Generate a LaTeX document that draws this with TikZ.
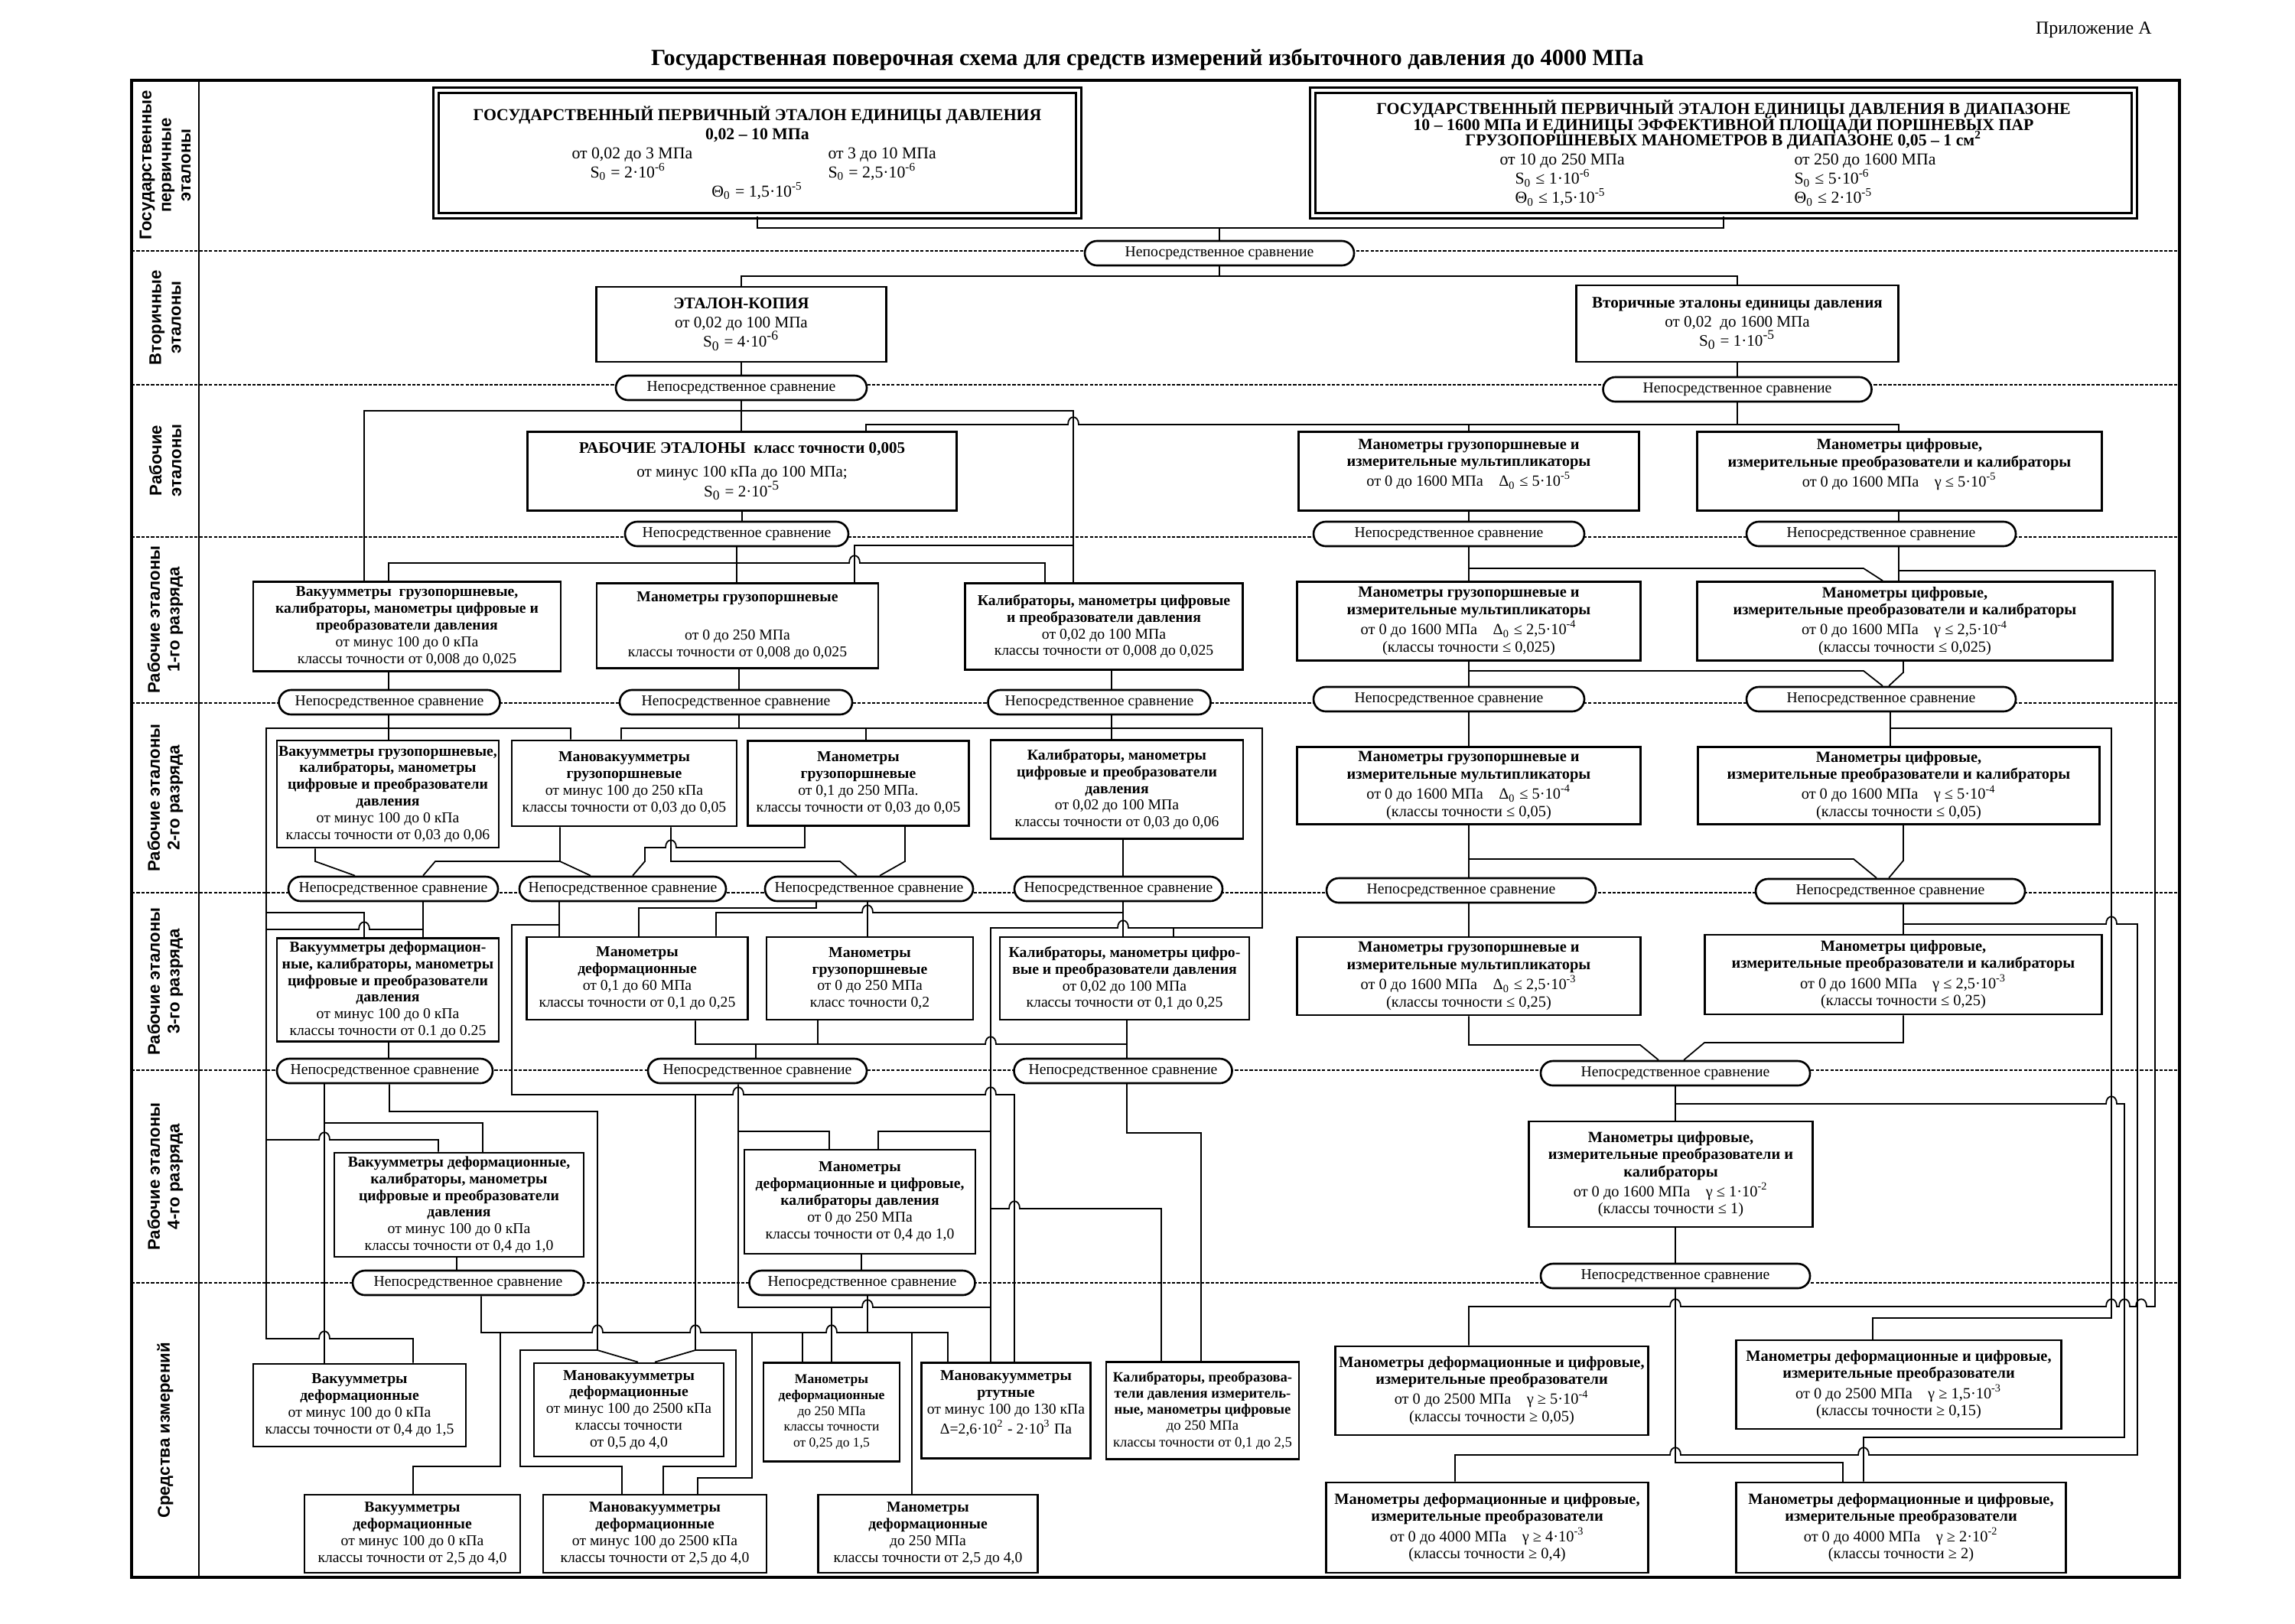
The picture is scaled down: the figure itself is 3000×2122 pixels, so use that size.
\documentclass[tikz,border=0pt]{standalone}
\usepackage{fontspec}
\setmainfont{Liberation Serif}
\newfontfamily\lblfont{Liberation Sans}
\newcommand{\tenp}[1]{·10\textsuperscript{#1}}
\newcommand{\Sn}{S\textsubscript{0}}
\newcommand{\colA}[2]{\makebox[#1][l]{#2}}
% hop of a horizontal line over a vertical one (drawn left to right / right to left)
\newcommand{\hopr}[2]{-- (#1-7,#2) .. controls (#1-7,#2-13) and (#1+7,#2-13) .. (#1+7,#2)}
\newcommand{\hopl}[2]{-- (#1+7,#2) .. controls (#1+7,#2-13) and (#1-7,#2-13) .. (#1-7,#2)}
\begin{document}
\begin{tikzpicture}[x=0.1mm, y=-0.1mm,
  every node/.style={inner sep=0.5pt},
  box/.style={draw, line width=0.8pt, fill=white, align=center, font=\fontsize{5.6}{6.2}\selectfont},
  rbox/.style={box, font=\fontsize{5.8}{6.4}\selectfont},
  topbox/.style={draw, double, double distance=1.4pt, line width=0.8pt, align=center, font=\fontsize{6.2}{7.1}\selectfont},
  cmp/.style={draw, fill=white, line width=0.75pt, rounded corners=1.6mm, minimum height=3.2mm, font=\fontsize{5.6}{6.4}\selectfont},
  lbl/.style={rotate=90, align=center, font=\lblfont\bfseries\fontsize{6.3}{7.3}\selectfont},
  sep/.style={dash pattern=on 1.2pt off 0.6pt, line width=0.5pt},
  link/.style={line width=0.5pt}]
\useasboundingbox (0,0) rectangle (3000,2122);

% title
\node[font=\bfseries\fontsize{8.6}{10}\selectfont] (title) at (1500,78) {Государственная поверочная схема для средств измерений избыточного давления до 4000 МПа};
\node[font=\fontsize{6.8}{8}\selectfont, anchor=east] (app) at (2815,39) {Приложение А};

% frame and rows
\draw[line width=0.9pt] (172,105) rectangle (2849,2062);
\draw[line width=0.6pt] (260,105) -- (260,2062);
\foreach \y in {328,503,702,919,1167,1399,1677}
  \draw[sep] (172,\y) -- (2849,\y);

% row labels
\node[lbl] (l1) at (216,216) {Государственные\\первичные\\эталоны};
\node[lbl] (l2) at (216,415) {Вторичные\\эталоны};
\node[lbl] (l3) at (216,602) {Рабочие\\эталоны};
\node[lbl] (l4) at (216,810) {Рабочие эталоны\\1-го разряда};
\node[lbl] (l5) at (216,1043) {Рабочие эталоны\\2-го разряда};
\node[lbl] (l6) at (216,1283) {Рабочие эталоны\\3-го разряда};
\node[lbl] (l7) at (216,1538) {Рабочие эталоны\\4-го разряда};
\node[lbl] (l8) at (216,1870) {Средства измерений};

% state primary standards
\node[topbox, minimum width=84mm, minimum height=16.4mm] (sp1) at (990,200) {{\bfseries ГОСУДАРСТВЕННЫЙ ПЕРВИЧНЫЙ ЭТАЛОН ЕДИНИЦЫ ДАВЛЕНИЯ}\\{\bfseries 0,02 – 10 МПа}\\\colA{33.5mm}{от 0,02 до 3 МПа}\colA{15mm}{от 3 до 10 МПа}\\\colA{33.5mm}{\hspace{2.4mm}\Sn{} = 2\tenp{-6}}\colA{15mm}{\Sn{} = 2,5\tenp{-6}}\\Θ\textsubscript{0} = 1,5\tenp{-5}};
\node[topbox, minimum width=107.4mm, minimum height=16.4mm] (sp2) at (2253,200) {{\bfseries ГОСУДАРСТВЕННЫЙ ПЕРВИЧНЫЙ ЭТАЛОН ЕДИНИЦЫ ДАВЛЕНИЯ В ДИАПАЗОНЕ}\\[-1.2pt]{\bfseries 10 – 1600 МПа И ЕДИНИЦЫ ЭФФЕКТИВНОЙ ПЛОЩАДИ ПОРШНЕВЫХ ПАР}\\[-1.2pt]{\bfseries ГРУЗОПОРШНЕВЫХ МАНОМЕТРОВ В ДИАПАЗОНЕ 0,05 – 1 см\textsuperscript{2}}\\\colA{38.5mm}{от 10 до 250 МПа}\colA{20mm}{от 250 до 1600 МПа}\\\colA{38.5mm}{\hspace{2mm}\Sn{} ≤ 1\tenp{-6}}\colA{20mm}{\Sn{} ≤ 5\tenp{-6}}\\\colA{38.5mm}{\hspace{2mm}Θ\textsubscript{0} ≤ 1,5\tenp{-5}}\colA{20mm}{Θ\textsubscript{0} ≤ 2\tenp{-5}}};
\node[cmp, minimum width=35.2mm] (c1) at (1594,331) {Непосредственное сравнение};

% secondary standards
\node[box, font=\fontsize{6}{7.1}\selectfont, minimum width=37.9mm, minimum height=9.8mm] (kopia) at (969,424) {{\bfseries ЭТАЛОН-КОПИЯ}\\от 0,02 до 100 МПа\\\Sn{} = 4\tenp{-6}};
\node[box, font=\fontsize{6}{7.1}\selectfont, minimum width=42.1mm, minimum height=10mm] (vtor) at (2271,423) {{\bfseries Вторичные эталоны единицы давления}\\от 0,02~ до 1600 МПа\\\Sn{} = 1\tenp{-5}};
\node[cmp, minimum width=32.8mm] (c2a) at (969,507) {Непосредственное сравнение};
\node[cmp, minimum width=35.1mm] (c2b) at (2271,509) {Непосредственное сравнение};

% working standards
\node[box, font=\fontsize{6}{7.4}\selectfont, minimum width=56.1mm, minimum height=10.3mm] (rab) at (970,616) {{\bfseries РАБОЧИЕ ЭТАЛОНЫ~~класс точности 0,005}\\[1.5pt]от минус 100 кПа до 100 МПа;\\\Sn{} = 2\tenp{-5}};
\node[rbox, minimum width=44.5mm, minimum height=10.3mm] (mgp0) at (1920,616) {{\bfseries Манометры грузопоршневые и}\\{\bfseries измерительные мультипликаторы}\\от 0 до 1600 МПа\quad Δ\textsubscript{0} ≤ 5\tenp{-5}\\~};
\node[rbox, minimum width=52.9mm, minimum height=10.3mm] (mc0) at (2483,616) {{\bfseries Манометры цифровые,}\\{\bfseries измерительные преобразователи и калибраторы}\\от 0 до 1600 МПа\quad γ ≤ 5\tenp{-5}\\~};
\node[cmp, minimum width=29.2mm] (c3a) at (963,698) {Непосредственное сравнение};
\node[cmp, minimum width=35.4mm] (c3b) at (1894,698) {Непосредственное сравнение};
\node[cmp, minimum width=35.2mm] (c3c) at (2459,698) {Непосредственное сравнение};

% 1st rank
\node[box, minimum width=40.2mm, minimum height=11.7mm] (vgp1) at (532,819) {{\bfseries Вакуумметры~ грузопоршневые,}\\{\bfseries калибраторы, манометры цифровые и}\\{\bfseries преобразователи давления}\\от минус 100 до 0 кПа\\классы точности от 0,008 до 0,025};
\node[box, minimum width=36.8mm, minimum height=11.1mm] (mgp1) at (964,818) {{\bfseries Манометры грузопоршневые}\\[8pt]от 0 до 250 МПа\\классы точности от 0,008 до 0,025};
\node[box, minimum width=36.3mm, minimum height=11.3mm] (kal1) at (1443,819) {{\bfseries Калибраторы, манометры цифровые}\\{\bfseries и преобразователи давления}\\от 0,02 до 100 МПа\\классы точности от 0,008 до 0,025};
\node[rbox, minimum width=44.9mm, minimum height=10.3mm] (mgp1r) at (1920,812) {{\bfseries Манометры грузопоршневые и}\\{\bfseries измерительные мультипликаторы}\\от 0 до 1600 МПа\quad Δ\textsubscript{0} ≤ 2,5\tenp{-4}\\(классы точности ≤ 0,025)};
\node[rbox, minimum width=54.3mm, minimum height=10.3mm] (mc1r) at (2490,812) {{\bfseries Манометры цифровые,}\\{\bfseries измерительные преобразователи и калибраторы}\\от 0 до 1600 МПа\quad γ ≤ 2,5\tenp{-4}\\(классы точности ≤ 0,025)};
\node[cmp, minimum width=28.9mm] (e1) at (509,918) {Непосредственное сравнение};
\node[cmp, minimum width=30.4mm] (e2) at (962,918) {Непосредственное сравнение};
\node[cmp, minimum width=29.1mm] (e3) at (1437,918) {Непосредственное сравнение};
\node[cmp, minimum width=35.4mm] (e4) at (1894,914) {Непосредственное сравнение};
\node[cmp, minimum width=35.2mm] (e5) at (2459,914) {Непосредственное сравнение};

% 2nd rank
\node[box, minimum width=29mm, minimum height=14mm] (vgp2) at (507,1038) {{\bfseries Вакуумметры грузопоршневые,}\\{\bfseries калибраторы, манометры}\\{\bfseries цифровые и преобразователи}\\{\bfseries давления}\\от минус 100 до 0 кПа\\классы точности от 0,03 до 0,06};
\node[box, minimum width=29.4mm, minimum height=11.2mm] (mvgp2) at (816,1024) {{\bfseries Мановакуумметры}\\{\bfseries грузопоршневые}\\от минус 100 до 250 кПа\\классы точности от 0,03 до 0,05};
\node[box, minimum width=28.9mm, minimum height=11.1mm] (mgp2) at (1122,1024) {{\bfseries Манометры}\\{\bfseries грузопоршневые}\\от 0,1 до 250 МПа.\\классы точности от 0,03 до 0,05};
\node[box, minimum width=33mm, minimum height=12.9mm] (kal2) at (1460,1032) {{\bfseries Калибраторы, манометры}\\{\bfseries цифровые и преобразователи}\\{\bfseries давления}\\от 0,02 до 100 МПа\\классы точности от 0,03 до 0,06};
\node[rbox, minimum width=44.9mm, minimum height=10.1mm] (mgp2r) at (1920,1027) {{\bfseries Манометры грузопоршневые и}\\{\bfseries измерительные мультипликаторы}\\от 0 до 1600 МПа\quad Δ\textsubscript{0} ≤ 5\tenp{-4}\\(классы точности ≤ 0,05)};
\node[rbox, minimum width=52.5mm, minimum height=10.1mm] (mc2r) at (2482,1027) {{\bfseries Манометры цифровые,}\\{\bfseries измерительные преобразователи и калибраторы}\\от 0 до 1600 МПа\quad γ ≤ 5\tenp{-4}\\(классы точности ≤ 0,05)};
\node[cmp, minimum width=27.4mm] (f1) at (514,1162) {Непосредственное сравнение};
\node[cmp, minimum width=27mm] (f2) at (814,1162) {Непосредственное сравнение};
\node[cmp, minimum width=27.2mm] (f3) at (1136,1162) {Непосредственное сравнение};
\node[cmp, minimum width=27.2mm] (f4) at (1462,1162) {Непосредственное сравнение};
\node[cmp, minimum width=35.2mm] (g1) at (1910,1164) {Непосредственное сравнение};
\node[cmp, minimum width=35.2mm] (g2) at (2471,1165) {Непосредственное сравнение};

% 3rd rank
\node[box, minimum width=29mm, minimum height=13.5mm] (vd3) at (507,1294) {{\bfseries Вакуумметры деформацион-}\\{\bfseries ные, калибраторы, манометры}\\{\bfseries цифровые и преобразователи}\\{\bfseries давления}\\от минус 100 до 0 кПа\\классы точности от 0.1 до 0.25};
\node[box, minimum width=28.9mm, minimum height=10.8mm] (md3) at (833,1279) {{\bfseries Манометры}\\{\bfseries деформационные}\\от 0,1 до 60 МПа\\классы точности от 0,1 до 0,25};
\node[box, minimum width=27mm, minimum height=10.8mm] (mgp3) at (1137,1279) {{\bfseries Манометры}\\{\bfseries грузопоршневые}\\от 0 до 250 МПа\\класс точности 0,2};
\node[box, minimum width=32.6mm, minimum height=10.8mm] (kal3) at (1470,1279) {{\bfseries Калибраторы, манометры цифро-}\\{\bfseries вые и преобразователи давления}\\от 0,02 до 100 МПа\\классы точности от 0,1 до 0,25};
\node[rbox, minimum width=44.9mm, minimum height=10.2mm] (mgp3r) at (1920,1276) {{\bfseries Манометры грузопоршневые и}\\{\bfseries измерительные мультипликаторы}\\от 0 до 1600 МПа\quad Δ\textsubscript{0} ≤ 2,5\tenp{-3}\\(классы точности ≤ 0,25)};
\node[rbox, minimum width=51.9mm, minimum height=10.4mm] (mc3r) at (2488,1274) {{\bfseries Манометры цифровые,}\\{\bfseries измерительные преобразователи и калибраторы}\\от 0 до 1600 МПа\quad γ ≤ 2,5\tenp{-3}\\(классы точности ≤ 0,25)};
\node[cmp, minimum width=28.2mm] (j1) at (503,1400) {Непосредственное сравнение};
\node[cmp, minimum width=28.6mm] (j2) at (990,1400) {Непосредственное сравнение};
\node[cmp, minimum width=28.5mm] (j3) at (1468,1400) {Непосредственное сравнение};
\node[cmp, minimum width=35.2mm] (h1) at (2190,1403) {Непосредственное сравнение};

% 4th rank
\node[box, minimum width=32.6mm, minimum height=13.6mm] (vd4) at (600,1575) {{\bfseries Вакуумметры деформационные,}\\{\bfseries калибраторы, манометры}\\{\bfseries цифровые и преобразователи}\\{\bfseries давления}\\от минус 100 до 0 кПа\\классы точности от 0,4 до 1,0};
\node[box, minimum width=30.2mm, minimum height=13.6mm] (mdc4) at (1124,1571) {{\bfseries Манометры}\\{\bfseries деформационные и цифровые,}\\{\bfseries калибраторы давления}\\от 0 до 250 МПа\\классы точности от 0,4 до 1,0};
\node[rbox, minimum width=37.1mm, minimum height=13.8mm] (mc4) at (2184,1535) {{\bfseries Манометры цифровые,}\\{\bfseries измерительные преобразователи и}\\{\bfseries калибраторы}\\от 0 до 1600 МПа\quad γ ≤ 1\tenp{-2}\\(классы точности ≤ 1)};
\node[cmp, minimum width=30.2mm] (k1) at (612,1677) {Непосредственное сравнение};
\node[cmp, minimum width=29.5mm] (k2) at (1127,1677) {Непосредственное сравнение};
\node[cmp, minimum width=35.2mm] (i1) at (2190,1668) {Непосредственное сравнение};

% measuring instruments
\node[box, minimum width=27.8mm, minimum height=10.8mm] (v1) at (470,1837) {{\bfseries Вакуумметры}\\{\bfseries деформационные}\\от минус 100 до 0 кПа\\классы точности от 0,4 до 1,5};
\node[box, minimum width=24.8mm, minimum height=12.2mm] (mv1) at (822,1843) {{\bfseries Мановакуумметры}\\{\bfseries деформационные}\\от минус 100 до 2500 кПа\\классы точности\\от 0,5 до 4,0};
\node[box, font=\fontsize{5}{5.9}\selectfont, minimum width=17.8mm, minimum height=12.9mm] (m1) at (1087,1846) {{\bfseries Манометры}\\{\bfseries деформационные}\\до 250 МПа\\классы точности\\от 0,25 до 1,5};
\node[box, minimum width=22.1mm, minimum height=12.5mm] (mvr) at (1315,1844) {{\bfseries Мановакуумметры}\\{\bfseries ртутные}\\от минус 100 до 130 кПа\\Δ=2,6\tenp{2} - 2\tenp{3} Па\\~};
\node[box, font=\fontsize{5.3}{6}\selectfont, minimum width=25.2mm, minimum height=12.7mm] (kpi) at (1572,1844) {{\bfseries Калибраторы, преобразова-}\\{\bfseries тели давления измеритель-}\\{\bfseries ные, манометры цифровые}\\до 250 МПа\\классы точности от 0,1 до 2,5};
\node[box, minimum width=28.2mm, minimum height=10.2mm] (v2) at (539,2005) {{\bfseries Вакуумметры}\\{\bfseries деформационные}\\от минус 100 до 0 кПа\\классы точности от 2,5 до 4,0};
\node[box, minimum width=29.2mm, minimum height=10.2mm] (mv2) at (856,2005) {{\bfseries Мановакуумметры}\\{\bfseries деформационные}\\от минус 100 до 2500 кПа\\классы точности от 2,5 до 4,0};
\node[box, minimum width=28.7mm, minimum height=10.2mm] (m2) at (1213,2005) {{\bfseries Манометры}\\{\bfseries деформационные}\\до 250 МПа\\классы точности от 2,5 до 4,0};
\node[rbox, minimum width=40.9mm, minimum height=11.6mm] (q1) at (1950,1818) {{\bfseries Манометры деформационные и цифровые,}\\{\bfseries измерительные преобразователи}\\от 0 до 2500 МПа\quad γ ≥ 5\tenp{-4}\\(классы точности ≥ 0,05)};
\node[rbox, minimum width=42.5mm, minimum height=11.6mm] (q2) at (2482,1810) {{\bfseries Манометры деформационные и цифровые,}\\{\bfseries измерительные преобразователи}\\от 0 до 2500 МПа\quad γ ≥ 1,5\tenp{-3}\\(классы точности ≥ 0,15)};
\node[rbox, minimum width=42.1mm, minimum height=11.8mm] (q3) at (1944,1997) {{\bfseries Манометры деформационные и цифровые,}\\{\bfseries измерительные преобразователи}\\от 0 до 4000 МПа\quad γ ≥ 4\tenp{-3}\\(классы точности ≥ 0,4)};
\node[rbox, minimum width=43.1mm, minimum height=11.8mm] (q4) at (2485,1997) {{\bfseries Манометры деформационные и цифровые,}\\{\bfseries измерительные преобразователи}\\от 0 до 4000 МПа\quad γ ≥ 2\tenp{-2}\\(классы точности ≥ 2)};

% primary -> secondary
\coordinate (t1) at (1594,298);
\coordinate (t2) at (1594,361);
\draw[link] (sp1.south) |- (t1) -| (sp2.south);
\draw[link] (t1) -- (c1.north);
\draw[link] (c1.south) -- (t2);
\draw[link] (kopia.north) |- (t2) -| (vtor.north);
\draw[link] (kopia.south) -- (kopia.south |- c2a.north);
\draw[link] (vtor.south) -- (vtor.south |- c2b.north);

% secondary -> working
\draw[link] (c2a.south) -- (c2a.south |- rab.north);
\draw[link] (476,0 |- vgp1.north) |- (1403,537) -- (1403,0 |- kal1.north);
\draw[link] (1403,713) -| (1117,0 |- mgp1.north);
\draw[link] (c2b.south) -- (2271,555);
\draw[link] (1132,0 |- rab.north) |- (1390,555) \hopr{1403}{555} -- (2482,555) -- (2482,0 |- mc0.north);
\draw[link] (mgp0.north) -- (mgp0.north |- 0,555);
\draw[link] (rab.south) -- (rab.south |- c3a.north);
\draw[link] (mgp0.south) -- (mgp0.south |- c3b.north);
\draw[link] (2482,0 |- mc0.south) -- (2482,0 |- c3c.north);

% working -> 1st rank
\draw[link] (c3a.south) -- (c3a.south |- mgp1.north);
\draw[link] (508,0 |- vgp1.north) |- (1100,736) \hopr{1117}{736} -| (1366,0 |- kal1.north);
\draw[link] (mgp1r.north |- c3b.south) -- (mgp1r.north);
\draw[link] (1920,743) -- (2436,743) -- (2461,0 |- mc1r.north);
\draw[link] (2482,0 |- c3c.south) -- (2482,0 |- mc1r.north);
\draw[link] (2482,746) -- (2817,746) -- (2817,1708) \hopl{2799}{1708} \hopl{2777}{1708} \hopl{2760}{1708} \hopl{2190}{1708} -| (1920,0 |- q1.north);

% 1st rank -> comparisons
\draw[link] (508,0 |- vgp1.south) -- (508,0 |- e1.north);
\draw[link] (966,0 |- mgp1.south) -- (966,0 |- e2.north);
\draw[link] (1453,0 |- kal1.south) -- (1453,0 |- e3.north);
\draw[link] (mgp1r.south) -- (mgp1r.south |- e4.north);
\draw[link] (1920,877) -- (2436,877) -- (2461,0 |- e5.north);
\draw[link] (2488,0 |- mc1r.south) -- (2488,879) -- (2469,0 |- e5.north);

% 1st rank comparisons -> 2nd rank
\draw[link] (508,0 |- e1.south) -- (508,0 |- vgp2.north);
\draw[link] (746,0 |- mvgp2.north) |- (348,952) -- (348,1750) \hopr{424}{1750} -| (540,0 |- v1.north);
\draw[link] (966,0 |- e2.south) -- (966,952);
\draw[link] (812,0 |- mvgp2.north) |- (1650,952) -- (1650,1213) \hopl{1468}{1213} -| (1295,0 |- mvr.north);
\draw[link] (1534,1213) -- (1534,0 |- kal3.north);
\draw[link] (1132,952) -- (1132,0 |- mgp2.north);
\draw[link] (1453,0 |- e3.south) -- (1453,0 |- kal2.north);
\draw[link] (mgp2r.north |- e4.south) -- (mgp2r.north);
\draw[link] (2471,0 |- e5.south) -- (2471,0 |- mc2r.north);
\draw[link] (2471,952) -- (2760,952) -- (2760,1723) -| (2448,0 |- q2.north);

% 2nd rank -> comparisons (left)
\draw[link] (412,0 |- vgp2.south) -- (412,1126) -- (464,0 |- f1.north);
\draw[link] (732,0 |- mvgp2.south) -- (732,1126) -- (569,1126) -- (553,0 |- f1.north);
\draw[link] (732,1126) -- (772,0 |- f2.north);
\draw[link] (1052,0 |- mgp2.south) -- (1052,1108) \hopl{877}{1108} -- (843,1108) -- (843,1126) -- (827,0 |- f2.north);
\draw[link] (877,0 |- mvgp2.south) -- (877,1126) -- (1098,1126) -- (1120,0 |- f3.north);
\draw[link] (1183,0 |- mgp2.south) -- (1183,1126) -- (1150,0 |- f3.north);
\draw[link] (1468,0 |- kal2.south) -- (1468,0 |- f4.north);

% 2nd rank -> comparisons (right)
\draw[link] (mgp2r.south) -- (mgp2r.south |- g1.north);
\draw[link] (1920,1123) -- (2423,1123) -- (2453,0 |- g2.north);
\draw[link] (2488,0 |- mc2r.south) -- (2488,1125) -- (2469,0 |- g2.north);
\draw[link] (mgp3r.north |- g1.south) -- (mgp3r.north);
\draw[link] (2488,0 |- g2.south) -- (2488,0 |- mc3r.north);
\draw[link] (2488,1208) \hopr{2760}{1208} -- (2794,1208) -- (2794,1902) \hopl{2436}{1902} \hopl{2190}{1902} -| (1902,0 |- q3.north);

% comparisons -> 3rd rank (left)
\draw[link] (553,0 |- f1.south) -- (553,0 |- vd3.north);
\draw[link] (553,1215) \hopl{476}{1215} -- (348,1215);
\draw[link] (348,1193) -| (476,0 |- vd3.north);
\draw[link] (731,0 |- f2.south) -- (731,0 |- md3.north);
\draw[link] (731,1209) -| (669,1431) \hopr{965}{1431} \hopr{1295}{1431} -| (1326,0 |- mvr.north);
\draw[link] (909,1431) -- (909,1765) -- (856,0 |- mv1.north);
\draw[link] (909,1765) -| (962,1917) -| (867,0 |- mv2.north);
\draw[link] (1067,0 |- f3.south) |- (835,1187) -- (835,0 |- md3.north);
\draw[link] (1134,0 |- f3.south) -- (1134,0 |- mgp3.north);
\draw[link] (1468,0 |- f4.south) -- (1468,0 |- kal3.north);
\draw[link] (1468,1193) \hopl{1134}{1193} -| (936,0 |- md3.north);

% 3rd rank -> 4th rank (right)
\draw[link] (mgp3r.south) -- (1920,1366) -- (2144,1366) -- (2168,0 |- h1.north);
\draw[link] (2488,0 |- mc3r.south) -- (2488,1363) -- (2228,1363) -- (2201,0 |- h1.north);
\draw[link] (h1.south) -- (h1.south |- mc4.north);
\draw[link] (2190,1443) \hopr{2760}{1443} -- (2777,1443) -- (2777,1879) -| (2436,0 |- q4.north);
\draw[link] (2190,0 |- mc4.south) -- (2190,0 |- i1.north);
\draw[link] (i1.south) -- (2190,1912) -| (2409,0 |- q4.north);

% 3rd rank -> comparisons (left)
\draw[link] (508,0 |- vd3.south) -- (508,0 |- j1.north);
\draw[link] (909,0 |- md3.south) |- (1285,1365) \hopr{1295}{1365} -- (1473,1365);
\draw[link] (1069,0 |- mgp3.south) -- (1069,1365);
\draw[link] (988,1365) -- (988,0 |- j2.north);
\draw[link] (1473,0 |- kal3.south) -- (1473,0 |- j3.north);

% comparisons -> 4th rank and instruments (left)
\draw[link] (424,0 |- j1.south) -- (424,0 |- v1.north);
\draw[link] (424,1468) -| (631,0 |- vd4.north);
\draw[link] (348,1490) \hopr{424}{1490} -| (573,0 |- vd4.north);
\draw[link] (509,0 |- j1.south) |- (781,1453) -- (781,1765) -- (834,0 |- mv1.north);
\draw[link] (781,1765) -| (680,1917) -| (813,0 |- mv2.north);
\draw[link] (965,0 |- j2.south) -- (965,1709) \hopr{1134}{1709} -- (1295,1709);
\draw[link] (965,1479) -| (1084,0 |- mdc4.north);
\draw[link] (1295,1479) -| (1148,0 |- mdc4.north);
\draw[link] (1087,1709) -- (1087,0 |- m1.north);
\draw[link] (1295,1580) \hopr{1326}{1580} -| (1518,0 |- kpi.north);
\draw[link] (1473,0 |- j3.south) |- (1570,1481) -- (1570,0 |- kpi.north);

% 4th rank -> comparisons -> instruments
\draw[link] (597,0 |- vd4.south) -- (597,0 |- k1.north);
\draw[link] (1126,0 |- mdc4.south) -- (1126,0 |- k2.north);
\draw[link] (629,0 |- k1.south) -- (629,1742) \hopr{781}{1742} \hopr{909}{1742} \hopr{1087}{1742} -- (1239,1742) -- (1239,0 |- mvr.north);
\draw[link] (654,1742) |- (540,1917) -- (540,0 |- v2.north);
\draw[link] (983,1742) |- (912,1932) -- (912,0 |- mv2.north);
\draw[link] (1049,1742) -- (1049,0 |- m1.north);
\draw[link] (1134,0 |- k2.south) -- (1134,1742);
\draw[link] (1192,1742) -- (1192,0 |- m2.north);
\end{tikzpicture}
\end{document}
